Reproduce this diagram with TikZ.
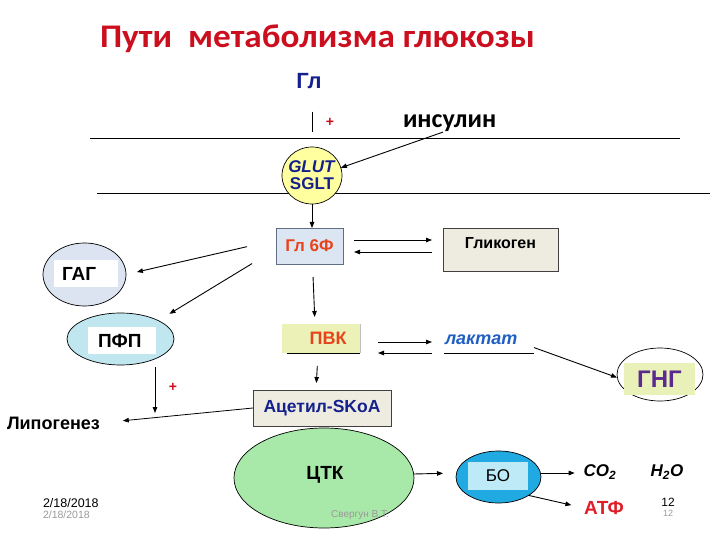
\documentclass[tikz,border=0pt]{standalone}
\usepackage{fontspec}
\setmainfont{Liberation Sans}
\newfontfamily\calib{Carlito}
\usetikzlibrary{arrows.meta,shapes.geometric}
\newcommand\fsz[1]{\fontsize{#1}{#1}\selectfont}
\definecolor{titred}{HTML}{CC0F1E}
\definecolor{navy}{HTML}{14208C}
\definecolor{orred}{HTML}{E8441C}
\definecolor{lakblue}{HTML}{1F5FC4}
\definecolor{gngpur}{HTML}{5A2A8E}
\definecolor{atfred}{HTML}{E01E28}
\definecolor{glutfill}{HTML}{FFFFA0}
\definecolor{gsixfill}{HTML}{DCE6F2}
\definecolor{gsixdraw}{HTML}{5F6E82}
\definecolor{beige}{HTML}{EEECE1}
\definecolor{gagfill}{HTML}{DCE3F1}
\definecolor{pfpfill}{HTML}{C0E6EF}
\definecolor{pvkfill}{HTML}{EBF1B7}
\definecolor{gngin}{HTML}{E9F1B9}
\definecolor{tcafill}{HTML}{A8E8A8}
\definecolor{bofill}{HTML}{21A9E1}
\definecolor{boin}{HTML}{BDEAF6}
\definecolor{footgrey}{HTML}{9A9A9A}
\begin{document}
\begin{tikzpicture}[x=1pt,y=-1pt,
  every node/.style={inner sep=0pt, outer sep=0pt},
  arr/.style={-{Triangle[length=6pt,width=4.5pt]}, line width=0.9pt},
  bx/.style={rectangle, draw=black!75, line width=0.7pt},
  ell/.style={ellipse, draw=black, line width=0.7pt},
  bold/.style={font=\bfseries\fsz{#1}},
  inrect/.style={rectangle, fill=white}]
\useasboundingbox (0,0) rectangle (720,540);
\fill[white] (0,0) rectangle (720,540);

% title
\node[anchor=base west, font=\calib\bfseries\fsz{33}, text=titred, xscale=1.066] (title) at (100,47.5) {Пути\ \ метаболизма глюкозы};

% membranes
\draw[line width=0.8pt] (90,138) -- (680,138);
\draw[line width=0.8pt] (97,193) -- (710,193);

\node[bold=22, text=navy] (gl) at (309,81) {Гл};
\node[anchor=base west, font=\calib\bfseries\fsz{26}] (ins) at (403,128) {инсулин};
\node[text=titred, font=\bfseries\fsz{14}] (plus1) at (330,122) {+};

\node[ell, fill=glutfill, minimum width=60pt, minimum height=57pt,
  label={[font=\bfseries\fsz{17}, text=navy, align=center]center:\textit{GLUT}\\SGLT}] (glut) at (312,175.5) {};

\draw[line width=0.8pt, shorten <=23pt, shorten >=15pt] (gl.south -| glut.north) -- (glut.north);
\draw[arr] ([xshift=40pt]ins.south west) -- (glut.15);

\node[bx, draw=gsixdraw, fill=gsixfill, minimum width=67pt, minimum height=36pt, bold=17, text=orred] (g6f) at (309.5,246) {Гл 6Ф};
\draw[arr] (glut.south) -- (glut.south |- g6f.north);

\node[bx, fill=beige, minimum width=115pt, minimum height=43pt, bold=16, text height=11.5pt, text depth=13.5pt] (glyk) at (500.5,249.5) {Гликоген};
\draw[arr, shorten <=11pt, shorten >=11pt] (g6f.east |- 0,240) -- (glyk.west |- 0,240);
\draw[arr, shorten <=11pt, shorten >=11pt] (glyk.west |- 0,252) -- (g6f.east |- 0,252);

% GAG
\node[ell, fill=gagfill, minimum width=83pt, minimum height=63pt] (gag) at (84.5,274.5) {};
\node[inrect, minimum height=27pt, inner xsep=8pt, text width=48pt, align=left, bold=19] (gagl) at (86,273.5) {ГАГ};
\draw[arr, shorten <=29.7pt, shorten >=11.2pt] ([yshift=6pt]g6f.west) -- (gag.east);

% PFP
\node[ell, fill=pfpfill, minimum width=107pt, minimum height=52pt] (pfp) at (120.5,339) {};
\node[inrect, minimum height=27pt, inner xsep=10pt, text width=48pt, align=left, bold=19] (pfpl) at (122,340.5) {ПФП};
\draw[arr, shorten <=28pt, shorten >=13pt] ([yshift=-3pt]g6f.west) -- (pfp.north east);

% PVK
\node[rectangle, fill=pvkfill, minimum width=78pt, minimum height=29pt, text width=51pt, inner xsep=13.5pt, align=right, bold=18, text=orred] (pvk) at (321,338.5) {ПВК};
\draw[line width=0.8pt] ([xshift=5pt]pvk.south west) -- (pvk.south east);
\draw[black!25, line width=0.5pt] (pvk.north east) -- (pvk.south east);
\draw[arr, shorten <=13pt, shorten >=7pt] ([xshift=3pt]g6f.south) -- ([xshift=-6pt]pvk.north);

% lactate
\node[anchor=south west, inner xsep=1pt, inner ysep=8.5pt, text width=88pt, align=left, font=\bfseries\itshape\fsz{18}, text=lakblue] (lak) at (444,353) {лактат};
\draw[line width=0.7pt] (lak.south west) -- (lak.south east);
\draw[arr, shorten <=18pt, shorten >=12pt] (pvk.east |- 0,342) -- (lak.west |- 0,342);
\draw[arr, shorten <=12pt, shorten >=18pt] (lak.west |- 0,353) -- (pvk.east |- 0,353);

% GNG
\node[ell, fill=white, minimum width=86pt, minimum height=53pt] (gng) at (660,374.5) {};
\node[rectangle, fill=gngin, minimum width=71pt, minimum height=32pt, bold=24, text=gngpur] (gngl) at (659.5,379) {ГНГ};
\draw[arr] ([yshift=-8pt]lak.east) -- ([yshift=-3pt]gng.west);

% acetyl
\node[bx, fill=beige, minimum width=138pt, minimum height=36pt, bold=17.5, text=navy] (acet) at (322,408) {Ацетил-SKoA};
\draw[arr, shorten <=13pt, shorten >=7pt] ([xshift=-3pt]pvk.south) -- ([xshift=-6pt]acet.north);

% lipogenesis
\node[anchor=west, bold=18] (lipo) at (7,423) {Липогенез};
\draw[arr, line width=0.8pt, shorten >=23pt] (acet.west) -- (lipo.east);
\coordinate (lipoin) at (155,413);
\draw[arr, shorten <=2pt] (pfp.south -| lipoin) -- (lipoin);
\node[text=titred, font=\bfseries\fsz{14}] (plus2) at (173,387) {+};

% TCA
\node[ell, fill=tcafill, minimum width=180pt, minimum height=100pt, bold=19] (tca) at (324,478) {};
\node[bold=19] (tcal) at (325,475) {ЦТК};

% BO
\node[ell, fill=bofill, minimum width=85pt, minimum height=52pt] (bo) at (498.5,477) {};
\node[rectangle, fill=boin, minimum width=60pt, minimum height=28pt, font=\fsz{17}] (bol) at (498,476) {БО};
\draw[arr, shorten >=13pt] ([yshift=4pt]tca.east) -- ([yshift=4pt]bo.west);

\node[font=\bfseries\itshape\fsz{17}] (co2) at (600,472) {CO\textsubscript{2}};
\node[font=\bfseries\itshape\fsz{17}] (h2o) at (667,472) {H\textsubscript{2}O};
\node[bold=19, text=atfred] (atf) at (604,508) {АТФ};
\draw[arr, shorten >=9pt] ([yshift=4pt]bo.east) -- (co2.west |- 0,473);
\draw[arr, shorten >=13pt] (bo.south east) -- (atf.west);

% footer
\node[font=\fsz{12}] (num1) at (668,502) {12};
\node[font=\fsz{9}, text=footgrey] (num2) at (668,513) {12};
\node[anchor=west, font=\fsz{12.5}] (date1) at (43,503) {2/18/2018};
\node[anchor=west, font=\fsz{10.5}, text=footgrey] (date2) at (43,515) {2/18/2018};
\node[font=\fsz{10}, text=footgrey] (auth) at (360,515) {Свергун В.Т.};
\end{tikzpicture}
\end{document}
